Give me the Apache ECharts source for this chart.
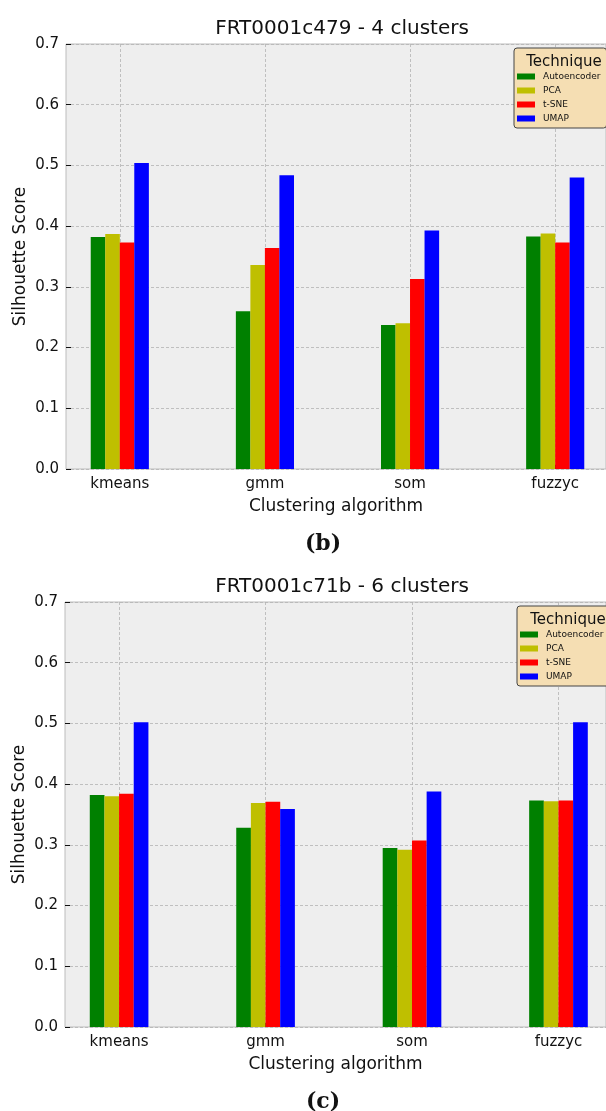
<!DOCTYPE html>
<html>
<head>
<meta charset="utf-8">
<script src="https://cdn.jsdelivr.net/npm/echarts@6/dist/echarts.min.js"></script>
<style>
html,body{margin:0;padding:0;background:#fff;}
#c{width:606px;height:1111px;}
</style>
</head>
<body>
<div id="c"></div>
<script>
const categories = ['kmeans', 'gmm', 'som', 'fuzzyc'];
const techniques = ['Autoencoder', 'PCA', 't-SNE', 'UMAP'];
const yTicks = [0, 0.1, 0.2, 0.3, 0.4, 0.5, 0.6, 0.7];
const titleB = 'FRT0001c479 - 4 clusters';
const titleC = 'FRT0001c71b - 6 clusters';
// chart (b)
const bAutoencoder = [0.382, 0.260, 0.237, 0.383];
const bPCA         = [0.387, 0.336, 0.240, 0.388];
const bTSNE        = [0.373, 0.364, 0.313, 0.373];
const bUMAP        = [0.504, 0.484, 0.393, 0.480];
// chart (c)
const cAutoencoder = [0.382, 0.328, 0.295, 0.373];
const cPCA         = [0.380, 0.369, 0.292, 0.372];
const cTSNE        = [0.384, 0.371, 0.307, 0.373];
const cUMAP        = [0.502, 0.359, 0.388, 0.502];

const colors = ['#008000', '#bfbf00', '#ff0000', '#0000ff'];
const offsets = [-0.15, -0.05, 0.05, 0.15];
const FONT = 'DejaVu Sans';

const chart = echarts.init(document.getElementById('c'), null, {renderer: 'canvas'});

function mkX(idx, min, max) {
  return {
    type: 'value', gridIndex: idx, min: min, max: max,
    axisLine: {show: false, onZero: false},
    axisTick: {show: true, inside: true, length: 4, customValues: [0, 1, 2, 3], lineStyle: {color: '#111', width: 1}},
    axisLabel: {show: true, customValues: [0, 1, 2, 3], margin: 8, color: '#111', fontSize: 15, fontFamily: FONT,
      formatter: v => categories[Math.round(v)] || ''},
    splitLine: {show: true, lineStyle: {color: '#b2b2b2', type: [3, 2], width: 0.8}},
    name: 'Clustering algorithm', nameLocation: 'middle', nameGap: 29, nameMoveOverlap: false,
    nameTextStyle: {fontSize: 17, color: '#111', fontFamily: FONT, verticalAlign: 'top'}
  };
}
function mkY(idx) {
  return {
    type: 'value', gridIndex: idx, min: 0, max: 0.7, interval: 0.1,
    axisLine: {show: false, onZero: false},
    axisTick: {show: true, inside: true, length: 5, lineStyle: {color: '#111', width: 1}},
    axisLabel: {margin: 7, color: '#111', fontSize: 15, fontFamily: FONT, formatter: v => v.toFixed(1)},
    splitLine: {show: true, lineStyle: {color: '#b2b2b2', type: [3, 2], width: 0.8}},
    name: 'Silhouette Score', nameLocation: 'middle', nameGap: 37, nameRotate: 90, nameMoveOverlap: false,
    nameTextStyle: {fontSize: 17, color: '#111', fontFamily: FONT}
  };
}
function mkSeries(idx, arrays, bw) {
  return arrays.map((arr, k) => ({
    type: 'bar', name: techniques[k], xAxisIndex: idx, yAxisIndex: idx,
    barWidth: bw, barGap: '-100%',
    itemStyle: {color: colors[k]},
    data: arr.map((v, i) => [i + offsets[k], v]),
    z: 3
  }));
}
function mkLegend(idx, left, top) {
  return {
    show: true, orient: 'vertical', left: left, top: top,
    data: techniques.map(t => ({name: t})),
    backgroundColor: '#f5deb3', borderColor: '#444', borderWidth: 1, borderRadius: 3,
    padding: [23, 6, 4, 3], itemWidth: 18, itemHeight: 6, itemGap: 3,
    icon: 'rect', selectedMode: false,
    textStyle: {fontSize: 9, color: '#111', fontFamily: FONT, lineHeight: 11, padding: [0, 0, 0, 3]},
    formatter: n => n
  };
}

const option = {
  animation: false,
  backgroundColor: '#ffffff',
  title: [
    {text: titleB, left: 337, top: 14, textAlign: 'center', textStyle: {fontSize: 20, fontWeight: 'normal', color: '#111', fontFamily: FONT}},
    {text: titleC, left: 337, top: 572, textAlign: 'center', textStyle: {fontSize: 20, fontWeight: 'normal', color: '#111', fontFamily: FONT}},
    {text: 'Technique', left: 559, top: 50, textAlign: 'center', textStyle: {fontSize: 15, fontWeight: 'normal', color: '#111', fontFamily: FONT}, z: 10},
    {text: 'Technique', left: 563, top: 608, textAlign: 'center', textStyle: {fontSize: 15, fontWeight: 'normal', color: '#111', fontFamily: FONT}, z: 10},
    {text: '(b)', left: 318, top: 528, textAlign: 'center', textStyle: {fontSize: 22, fontWeight: 'bold', color: '#111', fontFamily: 'DejaVu Serif'}},
    {text: '(c)', left: 318, top: 1086, textAlign: 'center', textStyle: {fontSize: 22, fontWeight: 'bold', color: '#111', fontFamily: 'DejaVu Serif'}}
  ],
  legend: [mkLegend(0, 514, 48), mkLegend(1, 517, 606)],
  grid: [
    {left: 66, top: 44, right: -2, height: 425, show: true, backgroundColor: '#eeeeee', borderColor: '#bcbcbc', borderWidth: 1, containLabel: false},
    {left: 65, top: 602, right: -2, height: 425, show: true, backgroundColor: '#eeeeee', borderColor: '#bcbcbc', borderWidth: 1, containLabel: false}
  ],
  xAxis: [mkX(0, -0.3707, 3.350), mkX(1, -0.3694, 3.3245)],
  yAxis: [mkY(0), mkY(1)],
  series: [].concat(
    mkSeries(0, [bAutoencoder, bPCA, bTSNE, bUMAP], 14.6),
    mkSeries(1, [cAutoencoder, cPCA, cTSNE, cUMAP], 14.7)
  )
};
chart.setOption(option);
</script>
</body>
</html>
